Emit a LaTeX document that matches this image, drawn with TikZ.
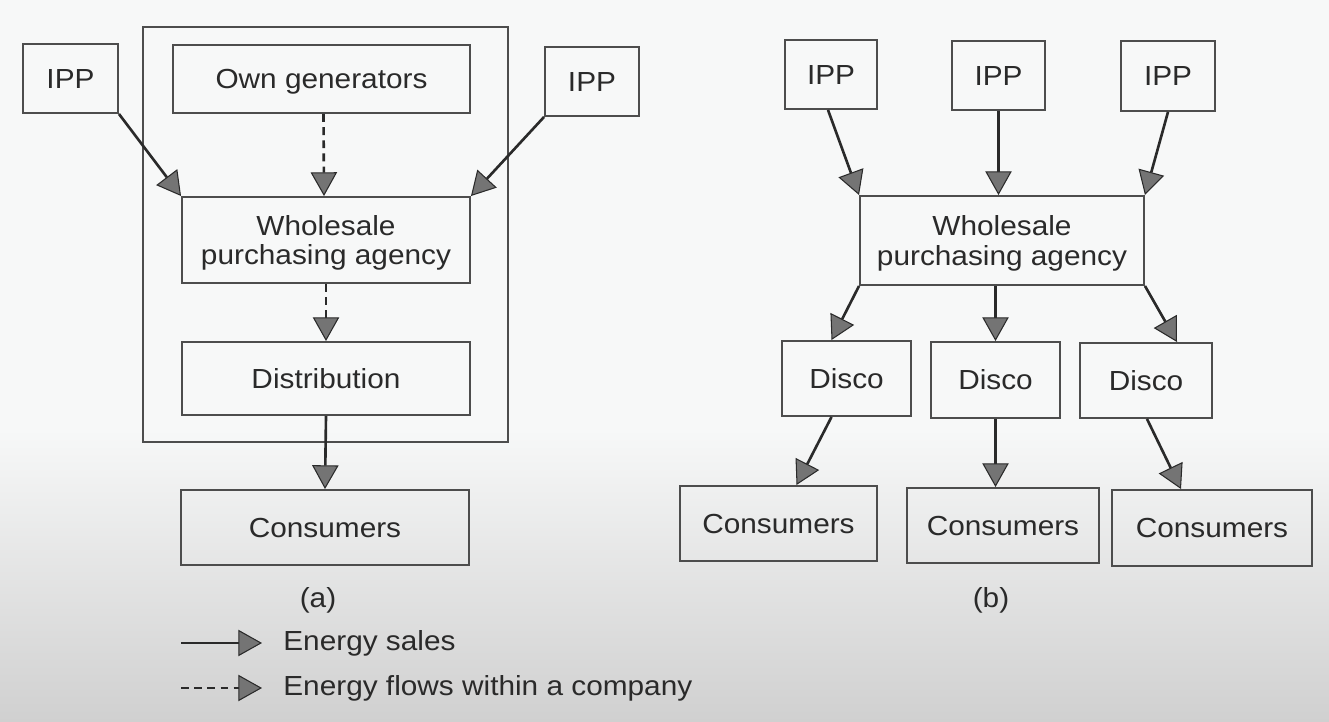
\documentclass[tikz,border=0pt]{standalone}
\usepackage{fontspec}
\setmainfont{Liberation Sans}[FakeStretch=1.08]
\usetikzlibrary{arrows.meta,calc}
\definecolor{bgtop}{HTML}{F7F8F8}
\definecolor{bgbot}{HTML}{D0D0D0}
\definecolor{boxline}{HTML}{4D4D4D}
\definecolor{arrline}{HTML}{2A2A2A}
\definecolor{headfill}{HTML}{747474}
\definecolor{txt}{HTML}{2A2A2A}
\begin{document}
\begin{tikzpicture}[x=0.02cm,y=-0.02cm,
  sz/.style 2 args={minimum width=#1*0.02cm, minimum height=#2*0.02cm},
  box/.style={draw=boxline,line width=1.1pt,inner sep=0pt,text=txt,align=center,font=\fontsize{15.7}{17}\selectfont},
  one/.style={text height=11.2pt,text depth=0pt},
  two/.style={text depth=0pt},
  flow/.style={draw=arrline,line width=1.5pt,-{Triangle[length=13.5pt,width=15pt,fill=headfill,line width=0.6pt]}},
  inflow/.style={flow,dash pattern=on 4.5pt off 3pt},
  lbl/.style={text=txt,font=\fontsize{15.7}{17}\selectfont,inner sep=0pt}]
% background
\fill[bgtop] (0,0) rectangle (1329,430);
\shade[top color=bgtop,bottom color=bgbot] (0,429) rectangle (1329,722);
\useasboundingbox (0,0) rectangle (1329,722);

% ---------- (a) ----------
\node[box,sz={365}{415}] (cont) at (325.5,234.5) {};
\node[box,one,sz={95}{69}]  (ippL) at (70.5,78.5) {IPP};
\node[box,one,sz={297}{68}] (own)  at (321.5,79) {Own generators};
\node[box,one,sz={94}{69}]  (ippR) at (592,81.5) {IPP};
\node[box,two,sz={288}{86}] (whA)  at (326,240) {Wholesale\\purchasing agency};
\node[box,one,sz={288}{73}] (dist) at (326,378.5) {Distribution};
\node[box,one,sz={288}{75}] (consA) at (325,527.5) {Consumers};
\node[lbl] (la) at (318,600) {(a)};

\draw[flow] (ippL.south east) -- (whA.north west);
\draw[flow] (ippR.south west) -- (whA.north east);
\draw[inflow] ($(own.south)+(2,0)$) -- ($(whA.north)+(-2,0)$);
\draw[inflow] (whA.south) -- (dist.north);
\draw[flow] (dist.south) -- (consA.north);

% ---------- (b) ----------
\node[box,one,sz={92}{69}]  (ip1) at (831,74.5) {IPP};
\node[box,one,sz={93}{69}]  (ip2) at (998.5,75.5) {IPP};
\node[box,one,sz={94}{70}]  (ip3) at (1168,76) {IPP};
\node[box,two,sz={284}{89}] (whB) at (1002,240.5) {Wholesale\\purchasing agency};
\node[box,one,sz={129}{75}] (d1) at (846.5,378.5) {Disco};
\node[box,one,sz={129}{76}] (d2) at (995.5,380) {Disco};
\node[box,one,sz={132}{75}] (d3) at (1146,380.5) {Disco};
\node[box,one,sz={197}{75}] (c1) at (778.5,523.5) {Consumers};
\node[box,one,sz={192}{75}] (c2) at (1003,525.5) {Consumers};
\node[box,one,sz={200}{76}] (c3) at (1212,528) {Consumers};
\node[lbl] (lb) at (991,600) {(b)};

\draw[flow] ($(ip1.south)+(-3,0)$) -- (whB.north west);
\draw[flow] (ip2.south) -- (ip2.south |- whB.north);
\draw[flow] (ip3.south) -- (whB.north east);
\draw[flow] (whB.south west) -- ($(d1.north)+(-15,0)$);
\draw[flow] (d2.north |- whB.south) -- (d2.north);
\draw[flow] (whB.south east) -- ($(d3.north)+(31,0)$);
\draw[flow] ($(d1.south)+(-15,0)$) -- ($(c1.north)+(18,0)$);
\draw[flow] (d2.south) -- (d2.south |- c2.north);
\draw[flow] ($(d3.south)+(1,0)$) -- ($(c3.north)+(-31,0)$);

% ---------- legend ----------
\coordinate (s1) at (181,643);
\coordinate (s2) at (262,643);
\coordinate (t1) at (181,688);
\coordinate (t2) at (262,688);
\draw[flow] (s1) -- (s2);
\draw[inflow] (t1) -- (t2);
\node[lbl,anchor=west] (ls) at (283,643) {Energy sales};
\node[lbl,anchor=west] (lt) at (283,688) {Energy flows within a company};
\end{tikzpicture}
\end{document}
